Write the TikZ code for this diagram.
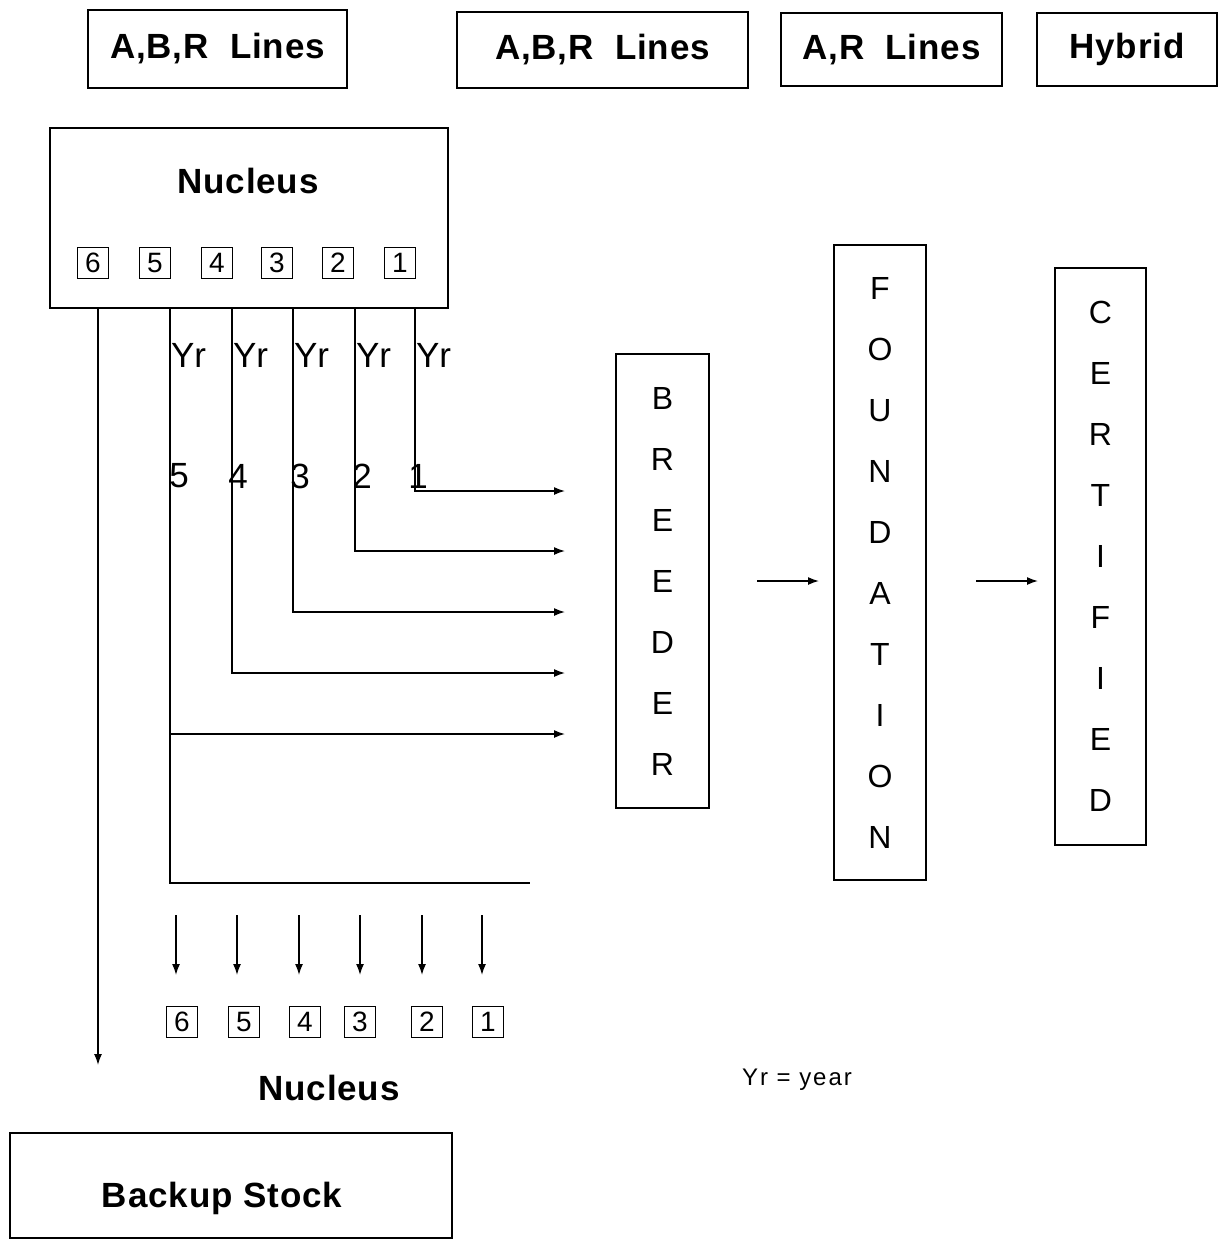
\documentclass[tikz,border=0pt]{standalone}
\usepackage{fontspec}
\setmainfont{Liberation Sans}
\usetikzlibrary{arrows.meta}
\begin{document}
\begin{tikzpicture}[x=1pt,y=-1pt,every node/.style={inner sep=0pt, outer sep=0pt},
  box/.style={draw, line width=1.6pt},
  bigtext/.style={font=\fontsize{35}{36}\selectfont\bfseries\addfontfeatures{LetterSpace=2.5}},
  numbox/.style={draw, line width=1.3pt, minimum size=31pt, font=\fontsize{28}{30}\selectfont},
  column/.style={box, align=center, font=\fontsize{32}{61}\selectfont},
  yrtext/.style={font=\fontsize{35}{36}\selectfont},
  flow/.style={line width=1.5pt},
  tip/.style={flow, -{Latex[length=11pt,width=8pt]}}]
\useasboundingbox (0,0) rectangle (1224,1244);
\node[box,bigtext,minimum width=259pt,minimum height=78pt] (abr1) at (217.5,49) {A,B,R\ \ Lines};
\node[box,bigtext,minimum width=291pt,minimum height=76pt] (abr2) at (602.5,50) {A,B,R\ \ Lines};
\node[box,bigtext,minimum width=221pt,minimum height=73pt] (ar) at (891.5,49.5) {A,R\ \ Lines};
\node[box,bigtext,minimum width=180pt,minimum height=73pt] (hyb) at (1127,49.5) {Hybrid};
\node[box,minimum width=398pt,minimum height=180pt] (nuc) at (249,218) {};
\node[bigtext] (nuctext) at (248,181) {Nucleus};
\node[numbox] (n6) at (93,263) {6};
\node[numbox] (n5) at (155,263) {5};
\node[numbox] (n4) at (217,263) {4};
\node[numbox] (n3) at (277,263) {3};
\node[numbox] (n2) at (338,263) {2};
\node[numbox] (n1) at (400,263) {1};
\node[column,minimum width=93pt,minimum height=454pt] (brd) at (662.5,581) {B\\R\\E\\E\\D\\E\\R};
\node[column,minimum width=92pt,minimum height=635pt] (fnd) at (880,562.5) {F\\O\\U\\N\\D\\A\\T\\I\\O\\N};
\node[column,minimum width=91pt,minimum height=577pt] (crt) at (1100.5,556.5) {C\\E\\R\\T\\I\\F\\I\\E\\D};
\coordinate (s0) at (98,308);
\coordinate (s5) at (170,308);
\coordinate (s4) at (232,308);
\coordinate (s3) at (293,308);
\coordinate (s2) at (355,308);
\coordinate (s1) at (415,308);
\coordinate (e1) at (565,491);
\coordinate (e2) at (565,551);
\coordinate (e3) at (565,612);
\coordinate (e4) at (565,673);
\coordinate (e5) at (565,734);
\coordinate (pool) at (530,883);
\coordinate (backend) at (98,1065);
\draw[tip] (s1) |- (e1);
\draw[tip] (s2) |- (e2);
\draw[tip] (s3) |- (e3);
\draw[tip] (s4) |- (e4);
\draw[tip] (s5 |- e5) -- (e5);
\draw[flow] (s5) |- (pool);
\draw[tip] (s0) -- (backend);
\node[yrtext,anchor=west] (yr5) at (171,355) {Yr};
\node[yrtext,anchor=west] (yr4) at (233,355) {Yr};
\node[yrtext,anchor=west] (yr3) at (294,355) {Yr};
\node[yrtext,anchor=west] (yr2) at (356,355) {Yr};
\node[yrtext,anchor=west] (yr1) at (416,355) {Yr};
\node[yrtext] (y5) at (179,476) {5};
\node[yrtext] (y4) at (238,476) {4};
\node[yrtext] (y3) at (300,476) {3};
\node[yrtext] (y2) at (362,476) {2};
\node[yrtext] (y1) at (418,476) {1};
\draw[tip] ([xshift=-77pt]fnd.west |- 0,581) -- ([xshift=-15pt]fnd.west |- 0,581);
\draw[tip] ([xshift=-79pt]crt.west |- 0,581) -- ([xshift=-17pt]crt.west |- 0,581);
\node[numbox] (b6) at (182,1022) {6};
\node[numbox] (b5) at (244,1022) {5};
\node[numbox] (b4) at (305,1022) {4};
\node[numbox] (b3) at (360,1022) {3};
\node[numbox] (b2) at (427,1022) {2};
\node[numbox] (b1) at (488,1022) {1};
\draw[tip] (176,915) -- (176,975);
\draw[tip] (237,915) -- (237,975);
\draw[tip] (299,915) -- (299,975);
\draw[tip] (360,915) -- (360,975);
\draw[tip] (422,915) -- (422,975);
\draw[tip] (482,915) -- (482,975);
\node[bigtext] (nucbottom) at (329,1088) {Nucleus};
\node[font=\fontsize{24}{26}\selectfont\addfontfeatures{LetterSpace=8}] (legend) at (797,1080) {Yr = year};
\node[box,minimum width=442pt,minimum height=105pt] (backup) at (231,1185.5) {};
\node[bigtext] (backuptext) at (222,1198) {Backup\ Stock};
\end{tikzpicture}
\end{document}
